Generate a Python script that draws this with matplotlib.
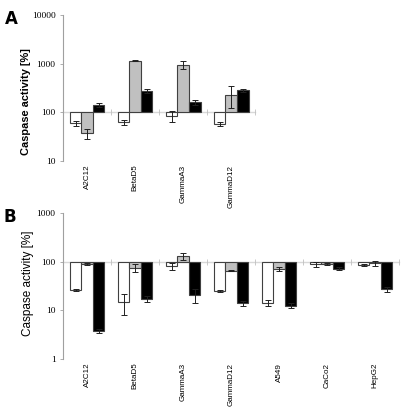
import numpy as np
import matplotlib
matplotlib.use("Agg")
import matplotlib.pyplot as plt

# panel A
cats_a = ["A2C12", "BetaD5", "GammaA3", "GammaD12"]
white_a = [60, 63, 85, 58]
white_a_err = [7, 7, 22, 5]
grey_a = [37, 1150, 950, 230]
grey_a_err = [8, 30, 170, 110]
black_a = [141, 275, 160, 283]
black_a_err = [14, 22, 18, 22]

# panel B
cats_b = ["A2C12", "BetaD5", "GammaA3", "GammaD12", "A549", "CaCo2", "HepG2"]
white_b = [26, 15, 80, 25, 14, 88, 85]
white_b_err = [1, 7, 12, 1.5, 2, 10, 4]
grey_b = [90, 75, 130, 65, 71, 90, 92]
grey_b_err = [4, 13, 20, 1, 7, 3, 10]
black_b = [3.8, 17, 21, 14, 12.5, 71, 27]
black_b_err = [0.4, 2.5, 7, 1.5, 1.5, 5, 3]

colors = ["white", "#c0c0c0", "black"]
edge = "#404040"


def panel(ax, cats, series, errs, ylim, bold_label, label_size, label_xy):
    x = np.arange(len(cats))
    w = 0.24
    for k, (vals, err) in enumerate(zip(series, errs)):
        vals = np.array(vals, dtype=float)
        pos = x + (k - 1) * w
        ax.bar(pos, vals - 100, bottom=100, width=w, color=colors[k],
               edgecolor=edge, linewidth=0.8, zorder=2)
        ax.errorbar(pos, vals, yerr=err, fmt="none", ecolor="#202020",
                    elinewidth=0.7, capsize=2.2, capthick=0.7, zorder=3)
    ax.set_yscale("log")
    ax.set_ylim(*ylim)
    ax.set_xlim(-0.5, len(cats) - 0.5)
    for s in ["top", "right"]:
        ax.spines[s].set_visible(False)
    ax.spines["left"].set_color("#a0a0a0")
    ax.spines["left"].set_linewidth(0.8)
    ax.spines["bottom"].set_position(("data", 100))
    ax.spines["bottom"].set_color("#d8d8d8")
    ax.spines["bottom"].set_linewidth(1.0)
    ax.spines["bottom"].set_zorder(1)
    ax.set_xticks(np.arange(len(cats) + 1) - 0.5)
    ax.set_xticklabels([])
    ax.tick_params(axis="x", direction="inout", length=4, width=0.6,
                   color="#c0c0c0")
    ax.yaxis.set_minor_locator(matplotlib.ticker.NullLocator())
    ax.yaxis.set_major_formatter(matplotlib.ticker.FuncFormatter(
        lambda v, p: f"{int(round(v))}"))
    ax.tick_params(axis="y", direction="out", length=2.5, width=0.6,
                   color="#a0a0a0", labelsize=6.8, pad=3)
    for lab in ax.get_yticklabels():
        lab.set_fontfamily("Liberation Serif")
    for i, c in enumerate(cats):
        ax.text(i, -0.025, c, transform=ax.get_xaxis_transform(),
                rotation=90, ha="center", va="top", fontsize=5.8,
                family="Liberation Sans")
    ax.set_ylabel("Caspase activity [%]", family="Liberation Sans",
                  fontweight="bold" if bold_label else "normal",
                  fontsize=label_size)
    ax.yaxis.set_label_coords(*label_xy)


fig = plt.figure(figsize=(4.02, 4.15), dpi=100)
ax_a = fig.add_axes([0.157, 0.612, 0.478, 0.352])
ax_b = fig.add_axes([0.157, 0.135, 0.836, 0.352])

panel(ax_a, cats_a, [white_a, grey_a, black_a],
      [white_a_err, grey_a_err, black_a_err], (10, 10000), True, 7.9,
      (-0.165, 0.41))
panel(ax_b, cats_b, [white_b, grey_b, black_b],
      [white_b_err, grey_b_err, black_b_err], (1, 1000), False, 8.5,
      (-0.088, 0.52))

fig.text(0.012, 0.975, "A", fontsize=12, fontweight="bold", va="top")
fig.text(0.008, 0.498, "B", fontsize=12, fontweight="bold", va="top")

fig.savefig("out.png", dpi=100)
